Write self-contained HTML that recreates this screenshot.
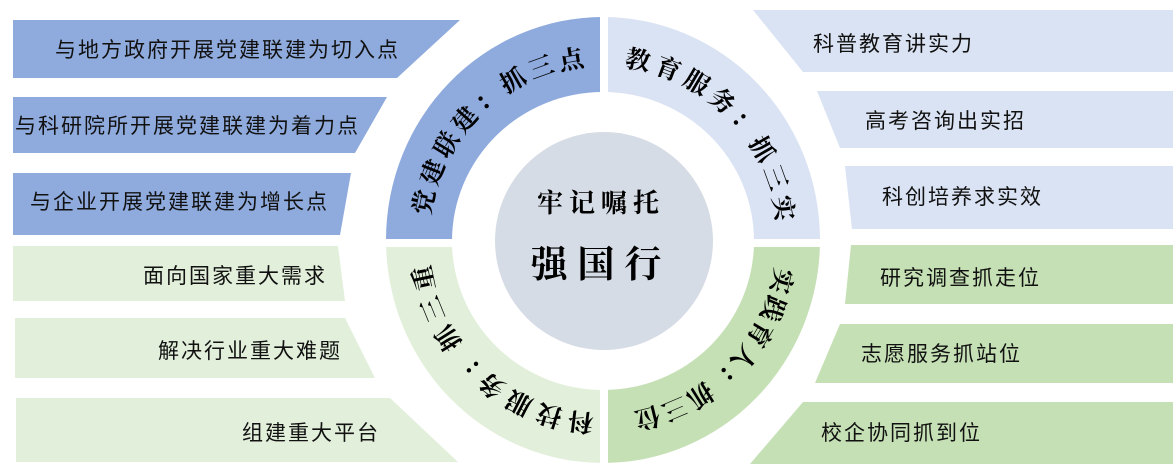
<!DOCTYPE html>
<html><head><meta charset="utf-8"><style>
html,body{margin:0;padding:0;background:#fff;}
svg{display:block;}
.b{font-family:"Liberation Sans","Noto Sans CJK SC",sans-serif;font-size:21px;fill:#111;letter-spacing:2px;}
.r{font-family:"Liberation Serif","Noto Serif CJK SC",serif;font-size:25px;font-weight:bold;fill:#000;}
</style></head><body>
<svg width="1175" height="467" viewBox="0 0 1175 467" xmlns="http://www.w3.org/2000/svg">
<polygon points="13,20 460,20 397,78 13,78" fill="#8FAADC"/>
<polygon points="13,97 387,97 355,153 13,153" fill="#8FAADC"/>
<polygon points="13,173 351,173 340,235 13,235" fill="#8FAADC"/>
<polygon points="13,246 338,246 345,301 13,301" fill="#E2EFDA"/>
<polygon points="15,318 345,318 375,378 15,378" fill="#E2EFDA"/>
<polygon points="16,398 390,398 458,462 16,462" fill="#E2EFDA"/>
<polygon points="753,10 1173,10 1173,72 803,72" fill="#DAE3F3"/>
<polygon points="817,91 1173,91 1173,148 840,148" fill="#DAE3F3"/>
<polygon points="845,166 1173,166 1173,229 852,229" fill="#DAE3F3"/>
<polygon points="851,245 1173,245 1173,304 845,304" fill="#C5E0B4"/>
<polygon points="840,324 1173,324 1173,383 815,383" fill="#C5E0B4"/>
<polygon points="803,402 1173,402 1173,464 750,464" fill="#C5E0B4"/>
<text class="b" x="55" y="57">与地方政府开展党建联建为切入点</text>
<text class="b" x="15" y="133">与科研院所开展党建联建为着力点</text>
<text class="b" x="30" y="209">与企业开展党建联建为增长点</text>
<text class="b" x="327" y="283" text-anchor="end">面向国家重大需求</text>
<text class="b" x="342" y="358" text-anchor="end">解决行业重大难题</text>
<text class="b" x="380" y="440" text-anchor="end">组建重大平台</text>
<text class="b" x="813" y="51">科普教育讲实力</text>
<text class="b" x="865" y="128">高考咨询出实招</text>
<text class="b" x="882" y="204">科创培养求实效</text>
<text class="b" x="880" y="285">研究调查抓走位</text>
<text class="b" x="861" y="361">志愿服务抓站位</text>
<text class="b" x="821" y="440">校企协同抓到位</text>
<path d="M603,240 L386,240 A217,223 0 0 1 603,17 Z" fill="#8FAADC"/>
<path d="M603,240 L603,17 A217,223 0 0 1 820,240 Z" fill="#DAE3F3"/>
<path d="M603,240 L820,240 A217,223 0 0 1 603,463 Z" fill="#C5E0B4"/>
<path d="M603,240 L603,463 A217,223 0 0 1 386,240 Z" fill="#E2EFDA"/>
<ellipse cx="603" cy="241" rx="151" ry="149" fill="#fff"/>
<rect x="600" y="10" width="8" height="460" fill="#fff"/>
<rect x="380" y="239" width="445" height="8" fill="#fff"/>
<circle cx="604" cy="241" r="109" fill="#D6DCE5"/>
<text class="r" x="601" y="212" text-anchor="middle" style="font-size:26px;letter-spacing:6px">牢记嘱托</text>
<text class="r" x="601" y="277" text-anchor="middle" style="font-size:37px;letter-spacing:10px">强国行</text>
<g class="r" text-anchor="middle" dominant-baseline="central">
<text x="603" y="58" transform="rotate(-78 603 240)">党</text>
<text x="603" y="58" transform="rotate(-68.3 603 240)">建</text>
<text x="603" y="58" transform="rotate(-58.6 603 240)">联</text>
<text x="603" y="58" transform="rotate(-48.9 603 240)">建</text>
<text x="603" y="58" transform="rotate(-39.1 603 240)">：</text>
<text x="603" y="58" transform="rotate(-29.4 603 240)">抓</text>
<text x="603" y="58" transform="rotate(-19.7 603 240)">三</text>
<text x="603" y="58" transform="rotate(-10 603 240)">点</text>
<text x="603" y="58" transform="rotate(11 603 240)">教</text>
<text x="603" y="58" transform="rotate(20.9 603 240)">育</text>
<text x="603" y="58" transform="rotate(30.7 603 240)">服</text>
<text x="603" y="58" transform="rotate(40.6 603 240)">务</text>
<text x="603" y="58" transform="rotate(50.4 603 240)">：</text>
<text x="603" y="58" transform="rotate(60.3 603 240)">抓</text>
<text x="603" y="58" transform="rotate(70.1 603 240)">三</text>
<text x="603" y="58" transform="rotate(80 603 240)">实</text>
<text x="603" y="58" transform="rotate(103 603 240)">实</text>
<text x="603" y="58" transform="rotate(112 603 240)">践</text>
<text x="603" y="58" transform="rotate(121 603 240)">育</text>
<text x="603" y="58" transform="rotate(130 603 240)">人</text>
<text x="603" y="58" transform="rotate(139 603 240)">：</text>
<text x="603" y="58" transform="rotate(148 603 240)">抓</text>
<text x="603" y="58" transform="rotate(157 603 240)">三</text>
<text x="603" y="58" transform="rotate(166 603 240)">位</text>
<text x="603" y="58" transform="rotate(187 603 240)">科</text>
<text x="603" y="58" transform="rotate(197.1 603 240)">技</text>
<text x="603" y="58" transform="rotate(207.3 603 240)">服</text>
<text x="603" y="58" transform="rotate(217.4 603 240)">务</text>
<text x="603" y="58" transform="rotate(227.6 603 240)">：</text>
<text x="603" y="58" transform="rotate(237.7 603 240)">抓</text>
<text x="603" y="58" transform="rotate(247.9 603 240)">三</text>
<text x="603" y="58" transform="rotate(258 603 240)">重</text>
</g>
</svg>
</body></html>
